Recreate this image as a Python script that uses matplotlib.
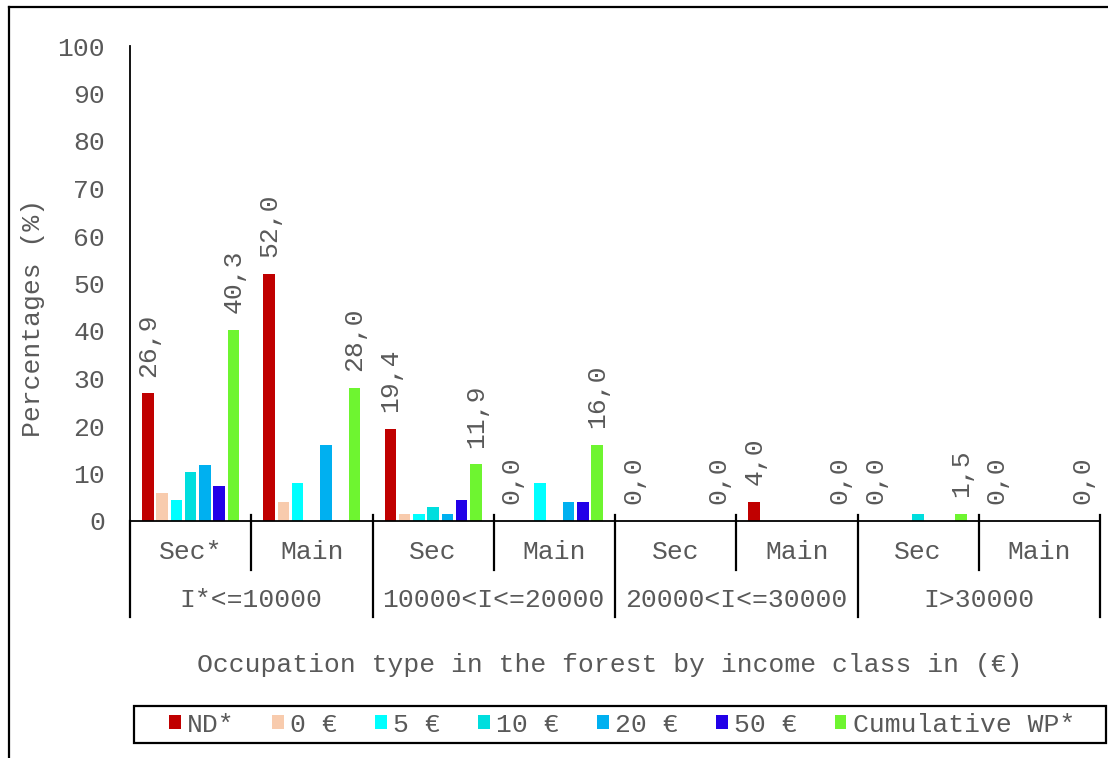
import matplotlib.pyplot as plt
from matplotlib.lines import Line2D
from matplotlib.patches import Rectangle
import numpy as np

# categories (two level axis)
sub_labels = ["Sec*", "Main", "Sec", "Main", "Sec", "Main", "Sec", "Main"]
group_labels = ["I*<=10000", "10000<I<=20000", "20000<I<=30000", "I>30000"]

# series
series_names = ["ND*", "0 €", "5 €", "10 €", "20 €", "50 €", "Cumulative WP*"]
nd = [26.9, 52.0, 19.4, 0.0, 0.0, 4.0, 0.0, 0.0]
eur0 = [5.8, 4.0, 1.4, 0.0, 0.0, 0.0, 0.0, 0.0]
eur5 = [4.4, 8.0, 1.4, 8.0, 0.0, 0.0, 0.0, 0.0]
eur10 = [10.3, 0.0, 2.9, 0.0, 0.0, 0.0, 1.5, 0.0]
eur20 = [11.8, 16.0, 1.4, 4.0, 0.0, 0.0, 0.0, 0.0]
eur50 = [7.4, 0.0, 4.4, 4.0, 0.0, 0.0, 0.0, 0.0]
cumulative = [40.3, 28.0, 11.9, 16.0, 0.0, 0.0, 1.5, 0.0]

colors = ["#C00000", "#F8CBAD", "#00FFFF", "#00DEDE", "#00B0F0", "#2200E8", "#6EF530"]

grey = "#595959"
fs = 19
plt.rcParams['font.family'] = ['Liberation Mono', 'DejaVu Sans Mono']

fig = plt.figure(figsize=(11.08, 7.58), dpi=100)
W, H = 1108.0, 758.0
ax = fig.add_axes([130 / W, 1 - 521 / H, 970 / W, 475 / H])

all_series = [nd, eur0, eur5, eur10, eur20, eur50, cumulative]
x = np.arange(len(sub_labels)) + 0.5
step = 0.1175
width = 0.094

for i, vals in enumerate(all_series):
    offs = (i - 3) * step
    bars = ax.bar(x + offs, vals, width, color=colors[i], label=series_names[i])
    # only ND and cumulative get value labels
    if i == 0 or i == 6:
        for xx, v in zip(x + offs, vals):
            ax.annotate(f"{v:.1f}".replace(".", ","), (xx, v), xytext=(0, 12),
                        textcoords="offset points", rotation=90, ha="center",
                        va="bottom", fontsize=fs, color=grey)

ax.set_xlim(0, len(sub_labels))
ax.set_ylim(0, 100)
ax.set_yticks(range(0, 101, 10))
ax.tick_params(axis="y", length=0, pad=18, labelsize=fs, labelcolor=grey)
ax.set_xticks([])
for s in ["top", "right"]:
    ax.spines[s].set_visible(False)
ax.spines["left"].set_linewidth(1.3)
ax.spines["bottom"].set_linewidth(1.3)

# category axis lines and labels
tr = ax.get_xaxis_transform()
for b in range(len(sub_labels) + 1):
    if b % 2 == 0:
        y_low = -96 / 475
    else:
        y_low = -49 / 475
    y_top = 0 if b == 0 else 6 / 475
    ax.add_line(Line2D([b, b], [y_low, y_top], transform=tr, color="black",
                       lw=1.6, clip_on=False))
for xx, lab in zip(x, sub_labels):
    ax.text(xx, -31 / 475, lab, transform=tr, ha="center", va="center",
            fontsize=fs, color=grey)
for g, lab in enumerate(group_labels):
    ax.text(2 * g + 1, -79 / 475, lab, transform=tr, ha="center", va="center",
            fontsize=fs, color=grey)

fig.text(610 / W, 1 - 665 / H, "Occupation type in the forest by income class in (€)",
         ha="center", va="center", fontsize=fs, color=grey)
fig.text(33 / W, 1 - 318 / H, "Percentages (%)", rotation=90, ha="center",
         va="center", fontsize=fs, color=grey)

# legend with its own box
fig.add_artist(Rectangle((134 / W, 1 - 743 / H), 972 / W, 37 / H, transform=fig.transFigure,
                         facecolor="white", edgecolor="black", lw=1.6))
fig.legend(loc="center", bbox_to_anchor=(622 / W, 1 - 724.5 / H), ncol=7, frameon=False,
           fontsize=fs, labelcolor=grey, handlelength=0.45, handleheight=0.45,
           handletextpad=0.25, columnspacing=1.4, borderpad=0)

# outer chart border (cut at right and bottom)
fig.add_artist(Line2D([9 / W, 1], [1 - 7 / H, 1 - 7 / H], transform=fig.transFigure,
                      color="black", lw=1.6))
fig.add_artist(Line2D([9 / W, 9 / W], [0, 1 - 7 / H], transform=fig.transFigure,
                      color="black", lw=1.6))

fig.savefig("out.png", dpi=100)
